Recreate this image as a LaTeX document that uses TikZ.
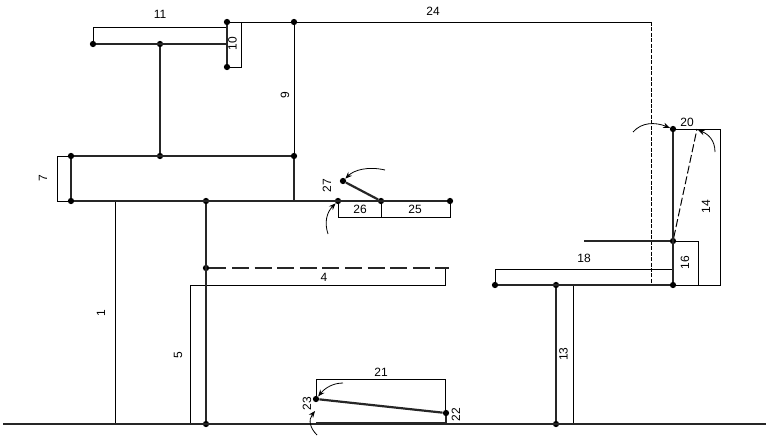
\documentclass[tikz,border=0pt]{standalone}
\usepackage{fontspec}
\setmainfont{Liberation Sans}
\usetikzlibrary{arrows.meta}
\tikzset{
  dot/.style={circle,fill=black,draw=none,inner sep=0pt,minimum size=4.7pt},
  thin dim/.style={draw=black,line width=0.75pt,line join=miter},
  member/.style={draw=black!85,line width=1.65pt},
  curvearrow/.style={draw=black,line width=0.6pt,-{Stealth[length=5pt,width=4pt]}},
  lab/.style={font=\fontsize{9}{10}\selectfont,inner sep=0pt},
  vlab/.style={lab,rotate=90},
}
\begin{document}
\begin{tikzpicture}[x=0.75pt,y=-0.75pt]
\useasboundingbox (0,0) rectangle (766,444);
% joints
\node[dot] (g1) at (206,424) {};
\node[dot] (g2) at (556,424) {};
\coordinate (gl) at (3,424);
\coordinate (gr) at (766,424);
\node[dot] (a) at (71,201) {};
\node[dot] (b) at (71,156) {};
\node[dot] (c) at (160,156) {};
\node[dot] (d) at (294,156) {};
\node[dot] (e) at (160,44) {};
\node[dot] (f) at (93,44) {};
\node[dot] (h) at (227,22) {};
\node[dot] (i) at (227,67) {};
\node[dot] (j) at (294,22) {};
\coordinate (k) at (227,44);
\coordinate (d2) at (294,201);
\node[dot] (m) at (206,201) {};
\node[dot] (n) at (206,268) {};
\node[dot] (o) at (338,201) {};
\node[dot] (p) at (381,201) {};
\node[dot] (q) at (450,201) {};
\node[dot] (r) at (343,181) {};
\coordinate (dashend) at (449,268);
\node[dot] (s) at (495,285) {};
\node[dot] (t) at (556,285) {};
\node[dot] (u) at (673,285) {};
\node[dot] (v) at (673,241) {};
\node[dot] (w) at (673,129) {};
\coordinate (seat) at (584,241);
\node[dot] (x) at (316,399) {};
\node[dot] (y) at (446,413) {};
\coordinate (y0) at (446,423);
\coordinate (x0) at (316,423);
% thin dimension lines
\draw[thin dim] (115,201) -- (115,424);
\draw[thin dim] (206,285) -- (190,285) -- (190,424);
\draw[thin dim] (190,285) -- (445,285) -- (445,268);
\draw[thin dim] (f) -- (93,27) -- (227,27);
\draw[thin dim] (h) -- (241,22) -- (241,67) -- (i);
\draw[thin dim] (h) -- (j) -- (651,22);
\draw[thin dim,dash pattern=on 3pt off 1.1pt] (651,22) -- (651,285);
\draw[thin dim] (j) -- (d);
\draw[thin dim] (b) -- (57,156) -- (57,201) -- (a);
\draw[thin dim] (o) -- (338,217) -- (450,217) -- (q);
\draw[thin dim] (p) -- (381,217);
\draw[thin dim] (s) -- (495,269) -- (673,269);
\draw[thin dim] (v) -- (698,241) -- (698,285);
\draw[thin dim] (w) -- (720,129) -- (720,285) -- (u);
\draw[thin dim] (573,285) -- (573,424);
\draw[thin dim] (x) -- (316,379) -- (445,379) -- (445,412);
\draw[thin dim,dash pattern=on 6pt off 2.2pt] (v) -- (697,129);
% members
\draw[member,line width=2pt] (gl) -- (gr);
\draw[member] (a) -- (q);
\draw[member] (a) -- (b);
\draw[member] (b) -- (d);
\draw[member] (d) -- (d2);
\draw[member] (c) -- (e);
\draw[member] (f) -- (k);
\draw[member] (h) -- (i);
\draw[member] (m) -- (g1);
\draw[member,dash pattern=on 12.75pt off 4.2pt] (n) -- (dashend);
\draw[member] (p) -- (r);
\draw[member] (s) -- (u);
\draw[member] (w) -- (u);
\draw[member] (seat) -- (v);
\draw[member] (t) -- (g2);
\draw[member] (x) -- (y);
\draw[member] (y) -- (y0);
\draw[member] (x0) -- (y0);
% rotation arrows
\coordinate (c1) at (385,170);
\coordinate (c2) at (328,234);
\coordinate (c3) at (633,132);
\coordinate (c4) at (715,152);
\coordinate (c5) at (343,383);
\coordinate (c6) at (317,435);
\coordinate (t4) at (698,130);
\draw[curvearrow] (c1) .. controls (368,166) and (354,170) .. (r);
\draw[curvearrow] (c2) .. controls (324,222) and (327,212) .. (o);
\draw[curvearrow] (c3) .. controls (642,122) and (655,122) .. (w);
\draw[curvearrow] (c4) .. controls (715,140) and (708,134) .. (t4);
\draw[curvearrow] (c5) .. controls (333,383) and (325,388) .. (x);
\draw[curvearrow] (c6) .. controls (310,428) and (308,420) .. (315,411);
% labels
\node[lab] (l11) at (160,14.5) {11};
\node[lab] (l24) at (433,11) {24};
\node[vlab] (l10) at (232.5,43.5) {10};
\node[vlab] (l9) at (285,95.5) {9};
\node[vlab] (l7) at (43,178.5) {7};
\node[vlab] (l27) at (327,185.5) {27};
\node[lab] (l26) at (360,209.5) {26};
\node[lab] (l25) at (415,209.5) {25};
\node[lab] (l4) at (324,277) {4};
\node[vlab] (l1) at (101,313.5) {1};
\node[vlab] (l5) at (178,355.5) {5};
\node[lab] (l18) at (584,258.5) {18};
\node[vlab] (l16) at (685,262.5) {16};
\node[vlab] (l14) at (706,206.5) {14};
\node[lab] (l20) at (687,122) {20};
\node[vlab] (l13) at (563.5,354) {13};
\node[lab] (l21) at (381,372) {21};
\node[vlab] (l23) at (307,403.5) {23};
\node[vlab] (l22) at (456,414.5) {22};
\end{tikzpicture}
\end{document}
